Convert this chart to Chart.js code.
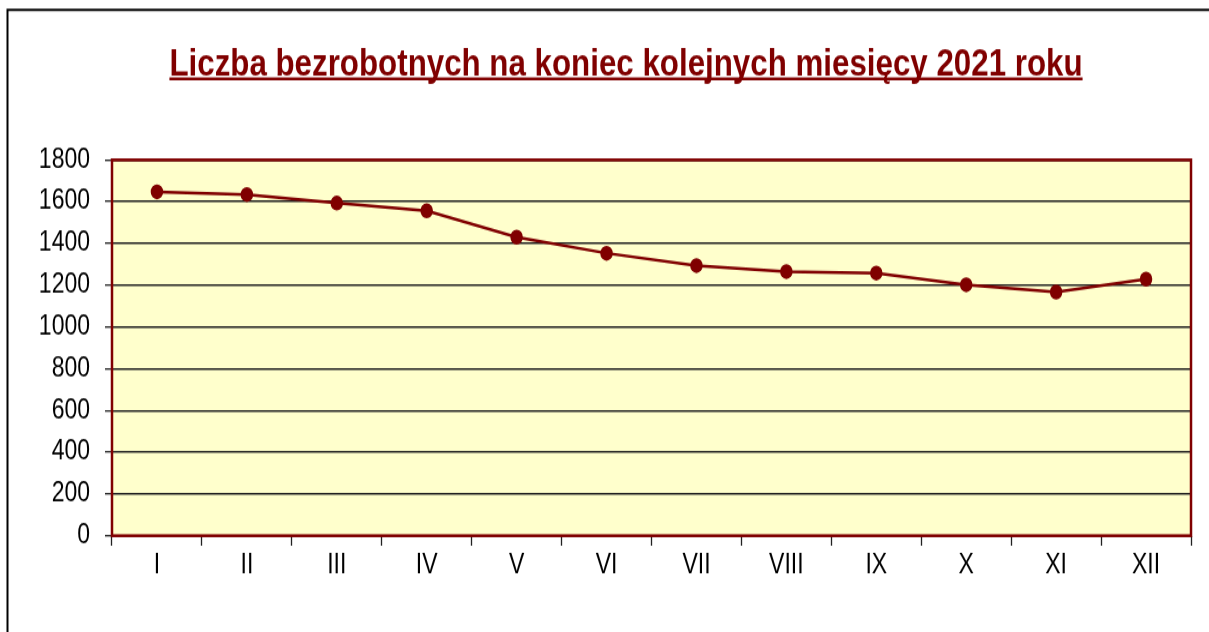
<!DOCTYPE html>
<html>
<head>
<meta charset="utf-8">
<script src="https://cdn.jsdelivr.net/npm/chart.js@4.4.0/dist/chart.umd.min.js"></script>
<style>
  body { margin: 0; background: #fff; }
</style>
</head>
<body>
<!-- drawn at 527px high, stretched to 632px like the original picture -->
<canvas id="chart" width="1209" height="527" style="display:block;width:1209px;height:632px"></canvas>
<script>
const chartTitle = 'Liczba bezrobotnych na koniec kolejnych miesięcy 2021 roku';
const months = ['I', 'II', 'III', 'IV', 'V', 'VI', 'VII', 'VIII', 'IX', 'X', 'XI', 'XII'];
const unemployed = [1647, 1634, 1593, 1556, 1430, 1353, 1294, 1265, 1258, 1202, 1167, 1229];
const yMin = 0;
const yMax = 1800;
const yStep = 200;

const darkRed = '#800000';
const fontFamily = '"Liberation Sans", Arial, sans-serif';

const decorPlugin = {
  id: 'decor',
  beforeDraw(chart) {
    const ctx = chart.ctx;
    const a = chart.chartArea;
    ctx.save();
    ctx.fillStyle = '#FFFFCC';
    ctx.fillRect(a.left, a.top, a.right - a.left, a.bottom - a.top);

    // outer frame (left and top only)
    ctx.strokeStyle = '#000';
    ctx.lineWidth = 2;
    ctx.beginPath();
    ctx.moveTo(7.5, chart.height);
    ctx.lineTo(7.5, 8.3);
    ctx.lineTo(chart.width, 8.3);
    ctx.stroke();

    // underlined title
    ctx.font = 'bold 31.3px ' + fontFamily;
    ctx.fillStyle = darkRed;
    ctx.textAlign = 'center';
    ctx.textBaseline = 'alphabetic';
    const w = ctx.measureText(chartTitle).width;
    ctx.fillText(chartTitle, 626, 62.5);
    ctx.fillRect(626 - w / 2, 64.5, w, 2.5);
    ctx.restore();
  },
  afterDatasetsDraw(chart) {
    const ctx = chart.ctx;
    const a = chart.chartArea;
    ctx.save();
    ctx.strokeStyle = darkRed;
    ctx.lineWidth = 2.5;
    ctx.strokeRect(a.left, a.top, a.right - a.left, a.bottom - a.top);
    ctx.restore();
  }
};

new Chart(document.getElementById('chart'), {
  type: 'line',
  data: {
    labels: months,
    datasets: [{
      data: unemployed,
      borderColor: darkRed,
      backgroundColor: darkRed,
      borderWidth: 2.5,
      pointRadius: 5,
      pointHoverRadius: 5,
      pointBackgroundColor: darkRed,
      pointBorderColor: darkRed,
      tension: 0
    }]
  },
  options: {
    responsive: false,
    devicePixelRatio: 1,
    animation: false,
    layout: { padding: { left: 0, right: 18, top: 133.3, bottom: 0 } },
    plugins: {
      legend: { display: false },
      title: { display: false },
      tooltip: { enabled: false }
    },
    scales: {
      x: {
        offset: true,
        grid: {
          offset: true,
          drawOnChartArea: false,
          drawTicks: true,
          tickLength: 8.3,
          tickColor: '#222',
          tickWidth: 1.3
        },
        border: { display: false },
        ticks: {
          color: '#000',
          padding: 3,
          maxRotation: 0,
          font: { family: fontFamily, size: 23 }
        },
        afterFit(scale) { scale.height = 80.3; }
      },
      y: {
        min: yMin,
        max: yMax,
        grid: {
          color: '#222',
          lineWidth: 1.4,
          drawTicks: true,
          tickLength: 7,
          tickColor: '#222',
          tickWidth: 1.3
        },
        border: { display: false },
        ticks: {
          stepSize: yStep,
          color: '#000',
          padding: 15,
          font: { family: fontFamily, size: 23 },
          callback: (value) => String(value)
        },
        afterFit(scale) { scale.width = 112; }
      }
    }
  },
  plugins: [decorPlugin]
});
</script>
</body>
</html>
